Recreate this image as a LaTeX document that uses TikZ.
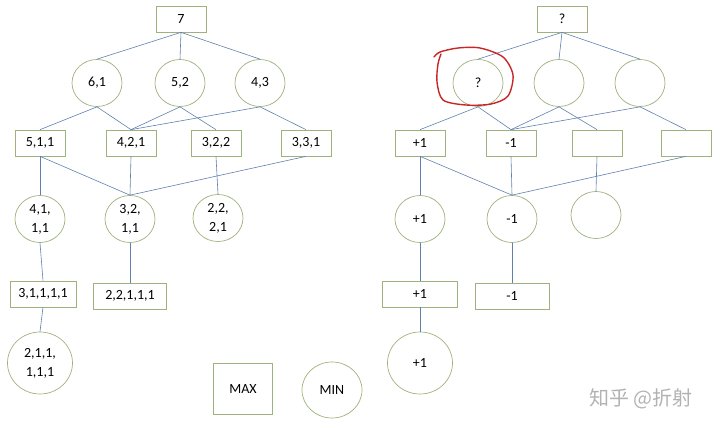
\documentclass[tikz,border=0pt]{standalone}
\usepackage{fontspec}
\setmainfont{Carlito}
\newfontfamily\cjkfont{Noto Sans CJK SC}
\usepackage{xcolor}
\usetikzlibrary{shapes.geometric}
\definecolor{nodeline}{RGB}{160,178,124}
\definecolor{linkblue}{RGB}{96,128,176}
\definecolor{penred}{RGB}{200,38,38}

\begin{document}
\begin{tikzpicture}[x=1pt,y=-1pt,
  font=\fontsize{14}{19}\selectfont,
  maxbox/.style={draw=nodeline,line width=0.7pt,minimum width=50pt,minimum height=26pt,inner sep=0pt},
  minnode/.style={draw=nodeline,line width=0.7pt,ellipse,minimum width=50pt,minimum height=47pt,inner sep=0pt,align=center},
  link/.style={draw=linkblue,line width=0.6pt}]
\useasboundingbox (0,0) rectangle (720,428);
% left tree
\node[maxbox] (n7) at (181,19) {7};
\node[minnode] (c61) at (97,83) {6,1};
\node[minnode] (c52) at (180,83) {5,2};
\node[minnode] (c43) at (260,83) {4,3};
\node[maxbox] (b511) at (40,143) {5,1,1};
\node[maxbox] (b421) at (131,143) {4,2,1};
\node[maxbox] (b322) at (216,143) {3,2,2};
\node[maxbox] (b331) at (306,143) {3,3,1};
\node[minnode] (c4111) at (40,219) {4,1,\\1,1};
\node[minnode] (c3211) at (130,219) {3,2,\\1,1};
\node[minnode] (c2221) at (218,218) {2,2,\\2,1};
\node[maxbox,minimum width=66pt] (b31111) at (43,294) {3,1,1,1,1};
\node[maxbox,minimum width=73pt] (b22111) at (130,296) {2,2,1,1,1};
\node[minnode,minimum width=65pt,minimum height=62pt] (c211111) at (40,363) {2,1,1,\\1,1,1};
\draw[link] (n7.south) -- (c61.north);
\draw[link] (n7.south) -- (c52.north);
\draw[link] (n7.south) -- (c43.north);
\draw[link] (c61.south) -- (b511.north);
\draw[link] (c61.south) -- (b421.north);
\draw[link] (c52.south) -- (b421.north);
\draw[link] (c52.south) -- (b322.north);
\draw[link] (c43.south) -- (b421.north);
\draw[link] (c43.south) -- (b331.north);
\draw[link] (b511.south) -- (c4111.north);
\draw[link] (b511.south) -- (c3211.north);
\draw[link] (b421.south) -- (c3211.north);
\draw[link] (b331.south) -- (c3211.north);
\draw[link] (b322.south) -- (c2221.north);
\draw[link] (c4111.south) -- (b31111.north);
\draw[link] (c3211.south) -- (b22111.north);
\draw[link] (b31111.south) -- (c211111.north);
% legend
\node[maxbox,minimum width=59pt,minimum height=51pt] (legmax) at (243,389) {MAX};
\node[minnode,minimum width=60pt,minimum height=56pt] (legmin) at (332,390) {MIN};
% right tree
\node[maxbox] (r0) at (562,19) {?};
\node[minnode] (rc1) at (478,83) {?};
\node[minnode] (rc2) at (559,83) {};
\node[minnode] (rc3) at (640,83) {};
\node[maxbox] (rb1) at (420,143) {+1};
\node[maxbox] (rb2) at (511,143) {-1};
\node[maxbox] (rb3) at (597,143) {};
\node[maxbox] (rb4) at (686,143) {};
\node[minnode] (rc4) at (420,219) {+1};
\node[minnode] (rc5) at (512,219) {-1};
\node[minnode] (rc6) at (596,215) {};
\node[maxbox,minimum width=75pt] (rb5) at (420,294) {+1};
\node[maxbox,minimum width=74pt] (rb6) at (512,296) {-1};
\node[minnode,minimum width=65pt,minimum height=62pt] (rc7) at (420,363) {+1};
\draw[link] (r0.south) -- (rc1.north);
\draw[link] (r0.south) -- (rc2.north);
\draw[link] (r0.south) -- (rc3.north);
\draw[link] (rc1.south) -- (rb1.north);
\draw[link] (rc1.south) -- (rb2.north);
\draw[link] (rc2.south) -- (rb2.north);
\draw[link] (rc2.south) -- (rb3.north);
\draw[link] (rc3.south) -- (rb2.north);
\draw[link] (rc3.south) -- (rb4.north);
\draw[link] (rb1.south) -- (rc4.north);
\draw[link] (rb1.south) -- (rc5.north);
\draw[link] (rb2.south) -- (rc5.north);
\draw[link] (rb4.south) -- (rc5.north);
\draw[link] (rb3.south) -- (rc6.north);
\draw[link] (rc4.south) -- (rb5.north);
\draw[link] (rc5.south) -- (rb6.north);
\draw[link] (rb5.south) -- (rc7.north);
% red pen mark
\draw[penred,line width=1.4pt,line cap=round,line join=round] plot[smooth] coordinates
  {(434,57) (440,52) (458,48) (480,48) (503,57) (513,75) (508,96) (491,104) (466,105) (443,100) (437,82) (438,64) (441,54)};
% watermark
\node[text=black!30,font=\cjkfont\fontsize{20}{20}\selectfont,anchor=west,inner sep=0pt] (mark) at (589,399) {知乎 @折射};
\end{tikzpicture}
\end{document}
